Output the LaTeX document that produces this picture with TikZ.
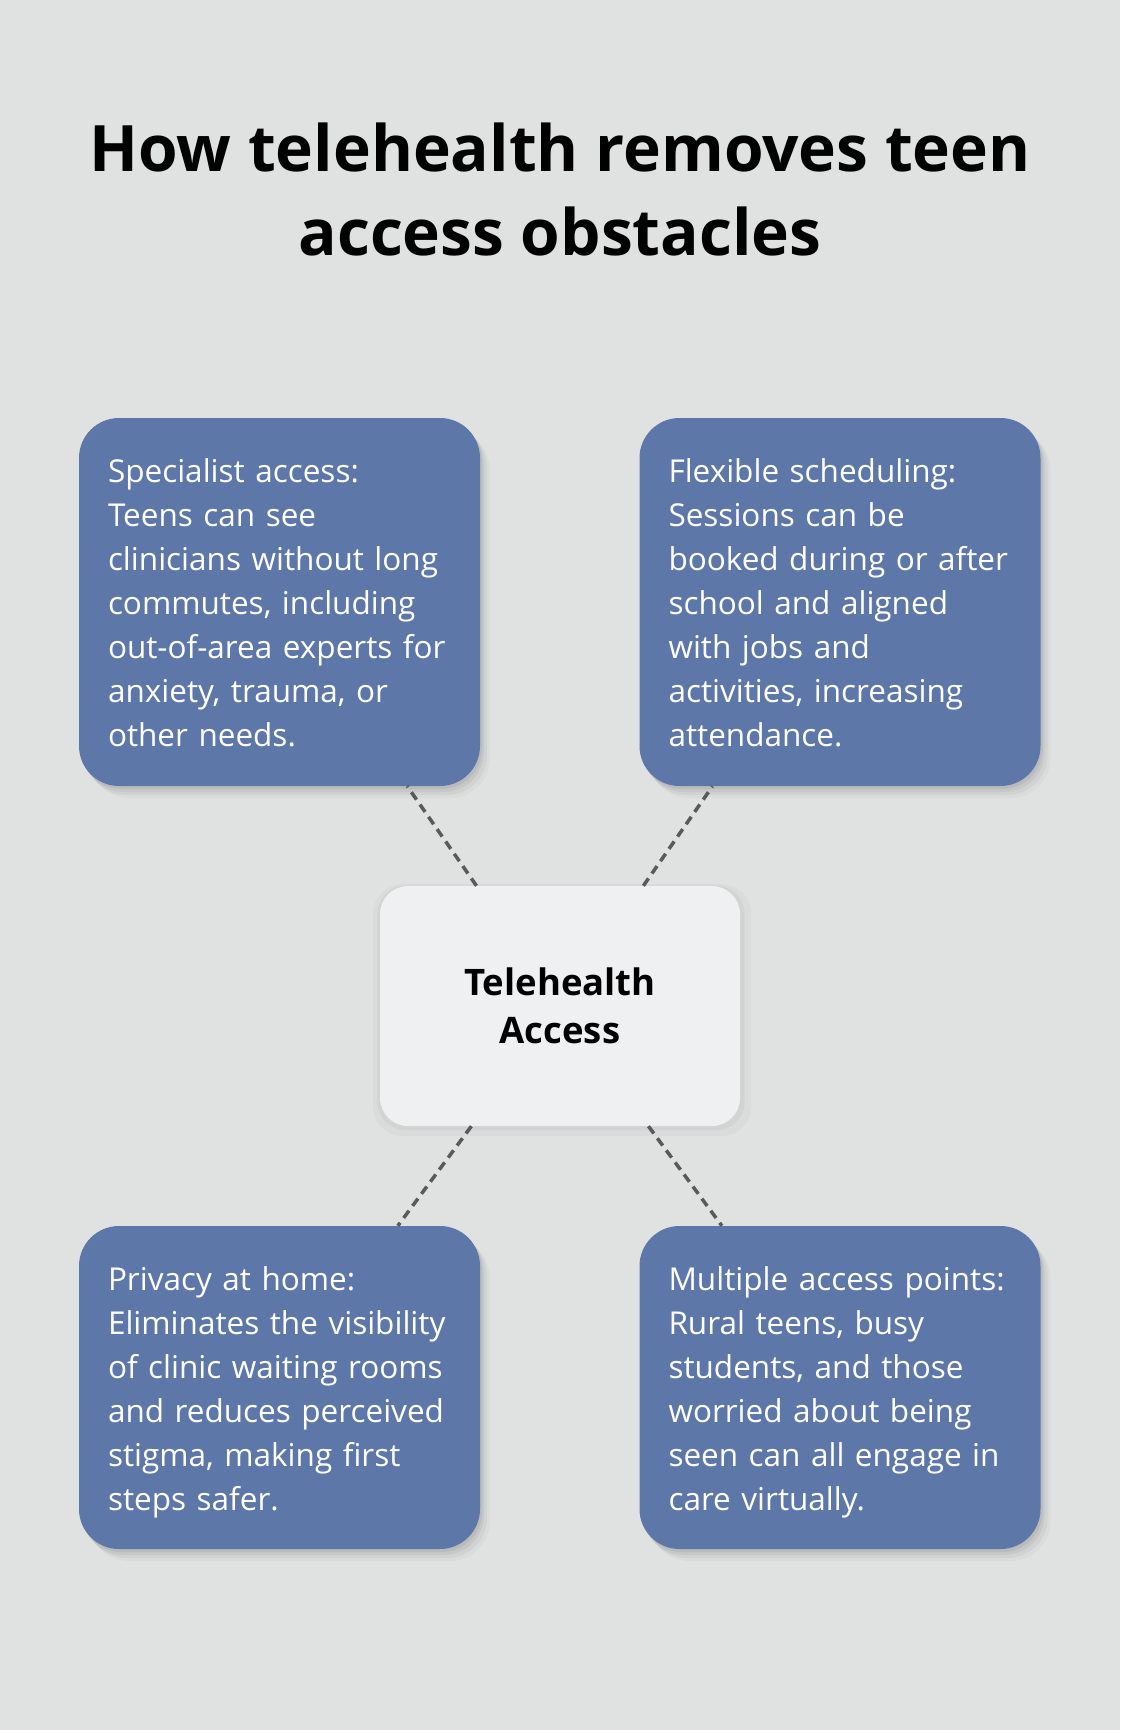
\documentclass[tikz,border=0pt]{standalone}
\usepackage{fontspec}
\setmainfont{Open Sans}
\usetikzlibrary{positioning,shadows}

\definecolor{bgGray}{HTML}{E0E2E1}
\definecolor{cardBlue}{HTML}{5D77A8}
\definecolor{hubWhite}{HTML}{EFF0F2}
\definecolor{linkGray}{HTML}{5A5A5A}

\hyphenpenalty=10000
\exhyphenpenalty=10000

\tikzset{
  softshadow/.style={
    drop shadow={shadow xshift=2pt, shadow yshift=-3pt, opacity=.06, fill=black},
    drop shadow={shadow xshift=4pt, shadow yshift=-6pt, opacity=.05, fill=black},
    drop shadow={shadow xshift=7pt, shadow yshift=-9pt, opacity=.04, fill=black},
    drop shadow={shadow xshift=10pt, shadow yshift=-12pt, opacity=.025, fill=black}},
  card/.style={rectangle, rounded corners=40pt, fill=cardBlue, text=white,
    text width=343pt, align=left, inner xsep=29pt, inner ysep=29.5pt,
    text height=34.5pt, font=\fontsize{31.5}{44}\selectfont, softshadow},
  hub/.style={rectangle, rounded corners=28pt, fill=hubWhite, text=black,
    minimum width=360pt, minimum height=240pt, inner sep=0pt, align=center,
    font=\bfseries\fontsize{36.5}{48}\selectfont,
    drop shadow={shadow scale=1.02, shadow xshift=1pt, shadow yshift=-2pt, opacity=.035, fill=black},
    drop shadow={shadow scale=1.05, shadow xshift=2pt, shadow yshift=-4pt, opacity=.025, fill=black}},
  heading/.style={align=center, text=black, inner sep=0pt,
    font=\bfseries\fontsize{64}{84}\selectfont},
  link/.style={draw=linkGray, line width=3.5pt, dash pattern=on 9pt off 6pt},
}

\begin{document}
\begin{tikzpicture}[x=1pt, y=-1pt]
    % Page
    \fill[bgGray] (0,0) rectangle (1120,1730);
    \useasboundingbox (0,0) rectangle (1120,1730);

    % Title
    \node[heading, anchor=base] (title) at (560,255) {How telehealth removes teen\\access obstacles};

    % Cards
    \node[card, text depth=274.5pt] (specialist) at (279.5,602) {Specialist access:\\Teens can see\\clinicians without long\\commutes, including\\out-of-area experts for\\anxiety, trauma, or\\other needs.};
    \node[card, text depth=274.5pt] (flexible) at (840,602) {Flexible scheduling:\\Sessions can be\\booked during or after\\school and aligned\\with jobs and\\activities, increasing\\attendance.};
    \node[card, text depth=229.5pt] (privacy) at (279.5,1387.5) {Privacy at home:\\Eliminates the visibility\\of clinic waiting rooms\\and reduces perceived\\stigma, making first\\steps safer.};
    \node[card, text depth=229.5pt] (multiple) at (840,1387.5) {Multiple access points:\\Rural teens, busy\\students, and those\\worried about being\\seen can all engage in\\care virtually.};

    % Hub
    \node[hub] (access) at (560,1006) {Telehealth\\Access};

    % Dashed links
    \draw[link] (access) -- (specialist);
    \draw[link] (access) -- (flexible);
    \draw[link] (access) -- (privacy);
    \draw[link] (access) -- (multiple);

\end{tikzpicture}
\end{document}
